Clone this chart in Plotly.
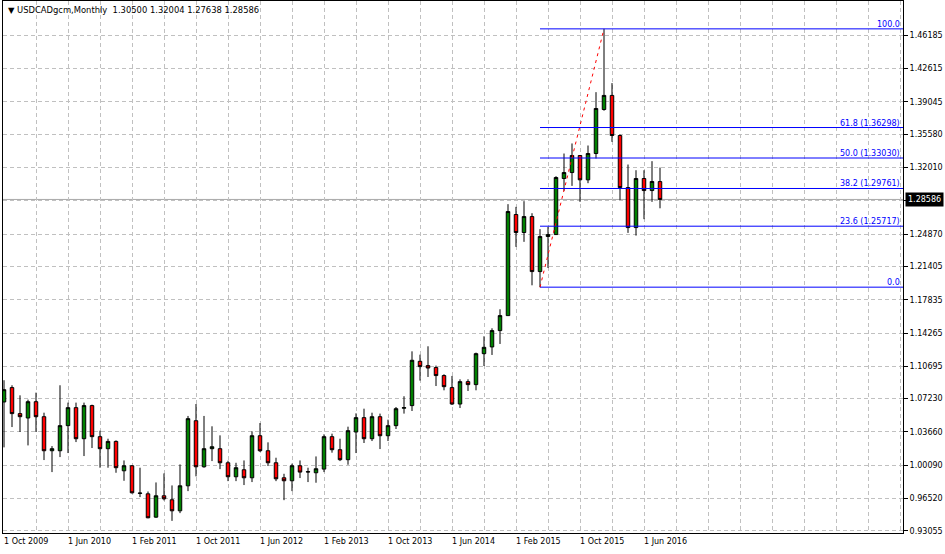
import pandas as pd
import plotly.graph_objects as go

# ---------------- data ----------------
symbol = "USDCADgcm"
timeframe = "Monthly"
first_month = "2009-10-01"

opens = [1.0687, 1.0841, 1.0562, 1.0515, 1.0690, 1.0529, 1.0164, 1.0164, 1.0433, 1.0626,
         1.0293, 1.0648, 1.0315, 1.0186, 1.0264, 0.9949, 1.0003, 0.9706, 0.9702, 0.9452,
         0.9681, 0.9638, 0.9520, 0.9788, 1.0486, 0.9992, 1.0186, 1.0186, 1.0035, 0.9885,
         0.9960, 0.9874, 1.0325, 1.0164, 1.0035, 0.9874, 0.9842, 1.0003, 0.9940, 0.9928,
         0.9967, 1.0315, 1.0175, 1.0068, 1.0365, 1.0519, 1.0293, 1.0529, 1.0325, 1.0433,
         1.0620, 1.0648, 1.1123, 1.1077, 1.1056, 1.0970, 1.0841, 1.0665, 1.0905, 1.0873,
         1.1205, 1.1277, 1.1452, 1.1613, 1.2697, 1.2504, 1.2675, 1.2085, 1.2461, 1.2482,
         1.3083, 1.3147, 1.3330, 1.3069, 1.3351, 1.3823, 1.3974, 1.3544, 1.2986, 1.2557,
         1.3083, 1.2954, 1.30500]

highs = [1.0920, 1.0866, 1.0758, 1.0712, 1.0787, 1.0572, 1.0214, 1.0866, 1.0680, 1.0680,
         1.0680, 1.0658, 1.0379, 1.0293, 1.0275, 1.0060, 1.0010, 0.9982, 0.9727, 0.9824,
         0.9921, 0.9792, 1.0017, 1.0537, 1.0665, 1.0537, 1.0426, 1.0329, 1.0057, 1.0035,
         1.0060, 1.0372, 1.0461, 1.0254, 1.0089, 0.9917, 1.0025, 1.0060, 0.9982, 1.0103,
         1.0340, 1.0347, 1.0293, 1.0422, 1.0565, 1.0615, 1.0572, 1.0562, 1.0497, 1.0633,
         1.0748, 1.1230, 1.1194, 1.1284, 1.1077, 1.0984, 1.0966, 1.0930, 1.0930, 1.1216,
         1.1391, 1.1477, 1.1681, 1.2808, 1.2779, 1.2840, 1.2711, 1.2540, 1.2564, 1.3108,
         1.3351, 1.3459, 1.3330, 1.3437, 1.4009, 1.46879, 1.4106, 1.3555, 1.3233, 1.3172,
         1.3172, 1.3269, 1.32004]

lows = [1.0200, 1.0418, 1.0365, 1.0221, 1.0365, 1.0064, 0.9935, 1.0096, 1.0139, 1.0257,
        1.0107, 1.0193, 0.9982, 0.9982, 0.9928, 0.9842, 0.9705, 0.9667, 0.9440, 0.9445,
        0.9631, 0.9412, 0.9495, 0.9731, 0.9889, 0.9982, 1.0053, 0.9967, 0.9838, 0.9838,
        0.9796, 0.9828, 1.0150, 1.0000, 0.9838, 0.9634, 0.9731, 0.9871, 0.9828, 0.9821,
        0.9935, 1.0143, 1.0053, 1.0014, 1.0139, 1.0247, 1.0268, 1.0182, 1.0268, 1.0397,
        1.0562, 1.0590, 1.0916, 1.0955, 1.0858, 1.0812, 1.0655, 1.0622, 1.0805, 1.0812,
        1.1073, 1.1191, 1.1309, 1.1613, 1.2350, 1.2404, 1.1938, 1.19181, 1.2124, 1.2479,
        1.2951, 1.3004, 1.2833, 1.3033, 1.3298, 1.3810, 1.3476, 1.2854, 1.2500, 1.2471,
        1.2647, 1.2833, 1.27638]

closes = [1.0819, 1.0562, 1.0529, 1.0690, 1.0529, 1.0164, 1.0186, 1.0433, 1.0626, 1.0293,
          1.0648, 1.0315, 1.0186, 1.0264, 0.9982, 1.0003, 0.9713, 0.9710, 0.9445, 0.9681,
          0.9649, 0.9520, 0.9788, 1.0508, 0.9992, 1.0186, 1.0207, 1.0035, 0.9885, 0.9982,
          0.9874, 1.0325, 1.0164, 1.0035, 0.9863, 0.9842, 1.0003, 0.9935, 0.9937, 0.9971,
          1.0315, 1.0175, 1.0068, 1.0379, 1.0519, 1.0293, 1.0529, 1.0325, 1.0433, 1.0615,
          1.0626, 1.1134, 1.1066, 1.1051, 1.0970, 1.0851, 1.0665, 1.0905, 1.0873, 1.1205,
          1.1273, 1.1452, 1.1613, 1.2729, 1.2504, 1.2675, 1.2085, 1.2461, 1.2482, 1.3094,
          1.3147, 1.3330, 1.3069, 1.3351, 1.3834, 1.3974, 1.3544, 1.2986, 1.2557, 1.3083,
          1.2954, 1.3051, 1.28586]

# price-scale labels on the right axis
price_ticks = [1.46185, 1.42615, 1.39045, 1.35580, 1.32010, 1.28440, 1.24870, 1.21405,
               1.17835, 1.14265, 1.10695, 1.07230, 1.03660, 1.00090, 0.96520, 0.93055]
price_tick_text = ["1.46185", "1.42615", "1.39045", "1.35580", "1.32010", "", "1.24870",
                   "1.21405", "1.17835", "1.14265", "1.10695", "1.07230", "1.03660",
                   "1.00090", "0.96520", "0.93055"]

# Fibonacci retracement (anchored from the May-2015 low to the Jan-2016 high)
fib_start_month = "2015-05-01"
fib_end_month = "2016-01-01"
fib_ratios = [0.0, 23.6, 38.2, 50.0, 61.8, 100.0]
fib_prices = [1.19181, 1.25717, 1.29761, 1.33030, 1.36298, 1.46879]

# --------------------------------------------------------------------
months = pd.date_range(first_month, periods=len(closes), freq="MS")
xi = list(range(len(months)))
month_pos = {m.strftime("%Y-%m-%d"): i for i, m in enumerate(months)}

x_lo, x_hi = -0.125, 112.375
y_lo, y_hi = 0.92819, 1.49866

FONT = "DejaVu Sans"
GRID = "#c0c0c0"

fig = go.Figure()
fig.add_trace(go.Candlestick(
    x=xi, open=opens, high=highs, low=lows, close=closes,
    increasing=dict(fillcolor="#008000", line=dict(color="black", width=1)),
    decreasing=dict(fillcolor="#ff0000", line=dict(color="black", width=1)),
    whiskerwidth=0, showlegend=False, hoverinfo="skip",
))

shapes = []
# current price line
shapes.append(dict(type="line", xref="x", yref="y", x0=x_lo, x1=x_hi,
                   y0=closes[-1], y1=closes[-1], layer="below",
                   line=dict(color="#a8a8a8", width=1)))
# fibo levels
fs, fe = month_pos[fib_start_month], month_pos[fib_end_month]
for r, p in zip(fib_ratios, fib_prices):
    shapes.append(dict(type="line", xref="x", yref="y", x0=fs, x1=x_hi, y0=p, y1=p,
                       line=dict(color="#0000ff", width=1)))
# fibo trend line (dashed red)
shapes.append(dict(type="line", xref="x", yref="y", x0=fs, x1=fe,
                   y0=fib_prices[0], y1=fib_prices[-1],
                   line=dict(color="#ff0000", width=1, dash="3px,4px")))

annotations = []
for r, p in zip(fib_ratios, fib_prices):
    txt = f"{r:.1f}" if r in (0.0, 100.0) else f"{r:.1f} ({p:.5f})"
    annotations.append(dict(xref="paper", yref="y", x=1, y=p, xanchor="right",
                            yanchor="bottom", xshift=-2, yshift=-1, text=txt,
                            showarrow=False, borderpad=0,
                            font=dict(family=FONT, size=8, color="#0000ff")))
# date labels (left-aligned at their bar, every 8 bars)
for i in range(0, len(months), 8):
    m = months[i]
    annotations.append(dict(xref="x", yref="paper", x=i, y=0, xanchor="left",
                            yanchor="top", xshift=-1, yshift=-3,
                            text=f"{m.day} {m.strftime('%b %Y')}", showarrow=False,
                            borderpad=0, font=dict(family=FONT, size=8, color="black")))
# current price tag
annotations.append(dict(xref="paper", yref="y", x=1, y=closes[-1], xanchor="left",
                        yanchor="middle", xshift=2, text=f"{closes[-1]:.5f}",
                        showarrow=False, bgcolor="black", borderpad=2,
                        font=dict(family=FONT, size=8, color="white")))
# header
annotations.append(dict(xref="paper", yref="paper", x=0, y=1, xanchor="left",
                        yanchor="top", xshift=3, yshift=-2, showarrow=False,
                        text=(f"\u25bc {symbol},{timeframe}\u00a0\u00a0{opens[-1]:.5f} "
                              f"{highs[-1]:.5f} {lows[-1]:.5f} {closes[-1]:.5f}"),
                        font=dict(family=FONT, size=8.4, color="black")))

fig.update_layout(
    width=945, height=554,
    margin=dict(l=3, r=42, t=1, b=21, pad=0),
    paper_bgcolor="white", plot_bgcolor="white",
    showlegend=False, boxgap=0.38,
    xaxis=dict(range=[x_lo, x_hi], tickmode="linear", tick0=0, dtick=4,
               showgrid=True, gridcolor=GRID, griddash="4px,3px", gridwidth=1,
               showticklabels=False, ticks="", zeroline=False,
               showline=True, linecolor="black", linewidth=1, mirror=True,
               rangeslider=dict(visible=False), fixedrange=True),
    yaxis=dict(range=[y_lo, y_hi], side="right", tickmode="array",
               tickvals=price_ticks, ticktext=price_tick_text,
               ticks="outside", ticklen=4, tickcolor="black",
               tickfont=dict(family=FONT, size=8, color="black"),
               showgrid=True, gridcolor=GRID, griddash="4px,3px", gridwidth=1,
               zeroline=False, showline=True, linecolor="black", linewidth=1,
               mirror=True, fixedrange=True),
    shapes=shapes, annotations=annotations,
)

fig.write_html("out.html", config={"displayModeBar": False},
               post_script="document.body.style.margin='0';")
